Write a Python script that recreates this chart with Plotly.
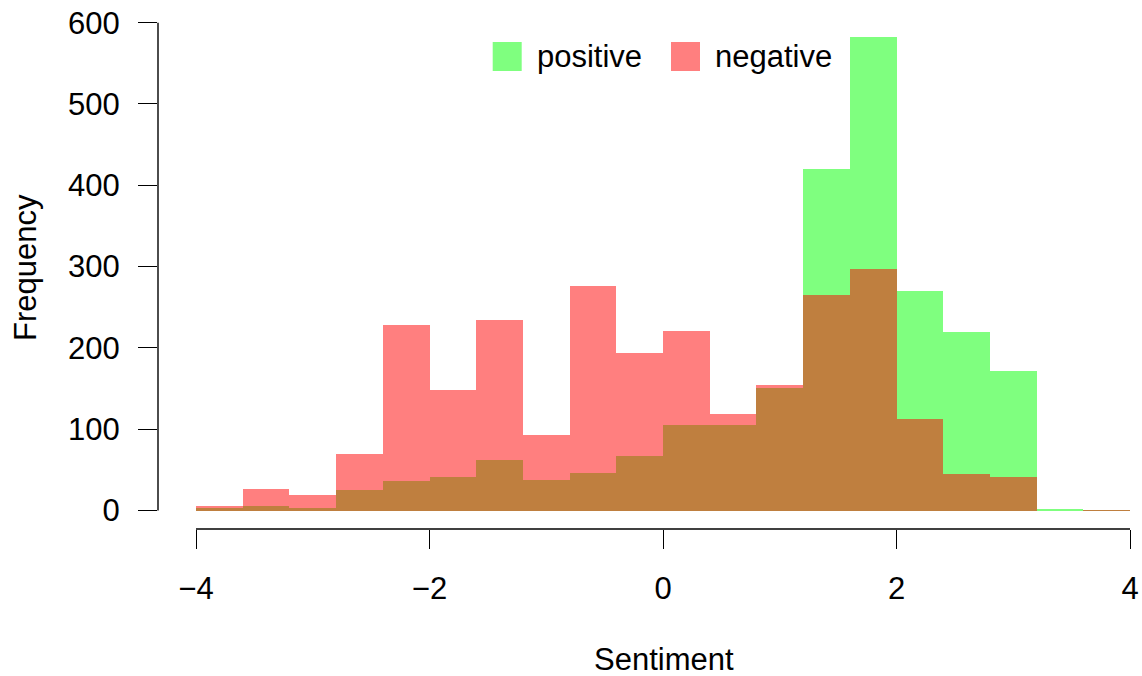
import plotly.graph_objects as go

# ---- data ----
bin_edges = [-4.0, -3.6, -3.2, -2.8, -2.4, -2.0, -1.6, -1.2, -0.8, -0.4, 0.0,
             0.4, 0.8, 1.2, 1.6, 2.0, 2.4, 2.8, 3.2, 3.6, 4.0]
positive = [3, 5, 3, 25, 36, 41, 62, 37, 46, 67, 105, 105, 151, 420, 582, 270, 220, 172, 2, 1]
negative = [5, 27, 19, 69, 228, 148, 234, 93, 276, 194, 221, 119, 154, 265, 297, 113, 45, 41, 0, 1]
x_ticks = [-4, -2, 0, 2, 4]
x_ticktext = ["\u22124", "\u22122", "0", "2", "4"]
y_ticks = [0, 100, 200, 300, 400, 500, 600]

centers = [(a + b) / 2 for a, b in zip(bin_edges[:-1], bin_edges[1:])]
widths = [b - a for a, b in zip(bin_edges[:-1], bin_edges[1:])]

W, H = 1142, 676
# plot area in pixels
L, R, T, B = 158, 1142, 10, 529
XR = [-4.3255, 4.1028]
YR = [-22.75, 615.6]

def px_x(p):
    return (p - L) / (R - L)

def px_y(p):
    return (B - p) / (B - T)

def dx(v):
    return (v - XR[0]) / (XR[1] - XR[0])

def dy(v):
    return (v - YR[0]) / (YR[1] - YR[0])

FONT = "Liberation Sans, Arial, Helvetica, sans-serif"
FS = 31

fig = go.Figure()
fig.add_trace(go.Bar(x=centers, y=positive, width=widths, name="positive",
                     marker=dict(color="rgba(0,255,0,0.5)", line=dict(width=0)),
                     showlegend=False))
fig.add_trace(go.Bar(x=centers, y=negative, width=widths, name="negative",
                     marker=dict(color="rgba(255,0,0,0.5)", line=dict(width=0)),
                     showlegend=False))

shapes = [
    dict(type="line", xref="paper", yref="paper", x0=dx(x_ticks[0]), x1=dx(x_ticks[-1]),
         y0=0, y1=0, line=dict(color="black", width=1.4)),
    dict(type="line", xref="paper", yref="paper", x0=0, x1=0,
         y0=dy(y_ticks[0]), y1=dy(y_ticks[-1]), line=dict(color="black", width=1.4)),
    # legend keys
    dict(type="rect", xref="paper", yref="paper", x0=px_x(492.7), x1=px_x(521.7),
         y0=px_y(71), y1=px_y(42), fillcolor="rgba(0,255,0,0.5)", line=dict(width=0)),
    dict(type="rect", xref="paper", yref="paper", x0=px_x(671), x1=px_x(700),
         y0=px_y(71), y1=px_y(42), fillcolor="rgba(255,0,0,0.5)", line=dict(width=0)),
]

annotations = [
    dict(text="positive", xref="paper", yref="paper", x=px_x(535), y=px_y(56),
         xanchor="left", yanchor="middle", showarrow=False,
         font=dict(family=FONT, size=FS, color="black")),
    dict(text="negative", xref="paper", yref="paper", x=px_x(713), y=px_y(56),
         xanchor="left", yanchor="middle", showarrow=False,
         font=dict(family=FONT, size=FS, color="black")),
    dict(text="Sentiment", xref="paper", yref="paper", x=px_x(664), y=px_y(659),
         xanchor="center", yanchor="middle", showarrow=False, borderpad=0,
         font=dict(family=FONT, size=FS, color="black")),
    dict(text="Frequency", xref="paper", yref="paper", x=px_x(25), y=px_y(268),
         xanchor="center", yanchor="middle", showarrow=False, textangle=-90,
         font=dict(family=FONT, size=FS, color="black")),
]

fig.update_layout(
    width=W, height=H,
    margin=dict(l=L, r=W - R, t=T, b=H - B, pad=0),
    paper_bgcolor="white", plot_bgcolor="white",
    barmode="overlay", bargap=0,
    shapes=shapes, annotations=annotations,
    font=dict(family=FONT, size=FS, color="black"),
    xaxis=dict(range=XR, tickvals=x_ticks, ticktext=x_ticktext, ticks="outside",
               ticklen=19, tickwidth=1.4, tickcolor="black", showgrid=False,
               zeroline=False, showline=False, ticklabelstandoff=13,
               tickfont=dict(family=FONT, size=FS, color="black")),
    yaxis=dict(range=YR, tickvals=y_ticks, ticks="outside", ticklen=19,
               tickwidth=1.4, tickcolor="black", showgrid=False, zeroline=False,
               showline=False, ticklabelstandoff=12,
               tickfont=dict(family=FONT, size=FS, color="black")),
)

fig.write_html("out.html", config={"displayModeBar": False},
               post_script="document.body.style.margin='0';document.body.style.overflow='hidden';")
